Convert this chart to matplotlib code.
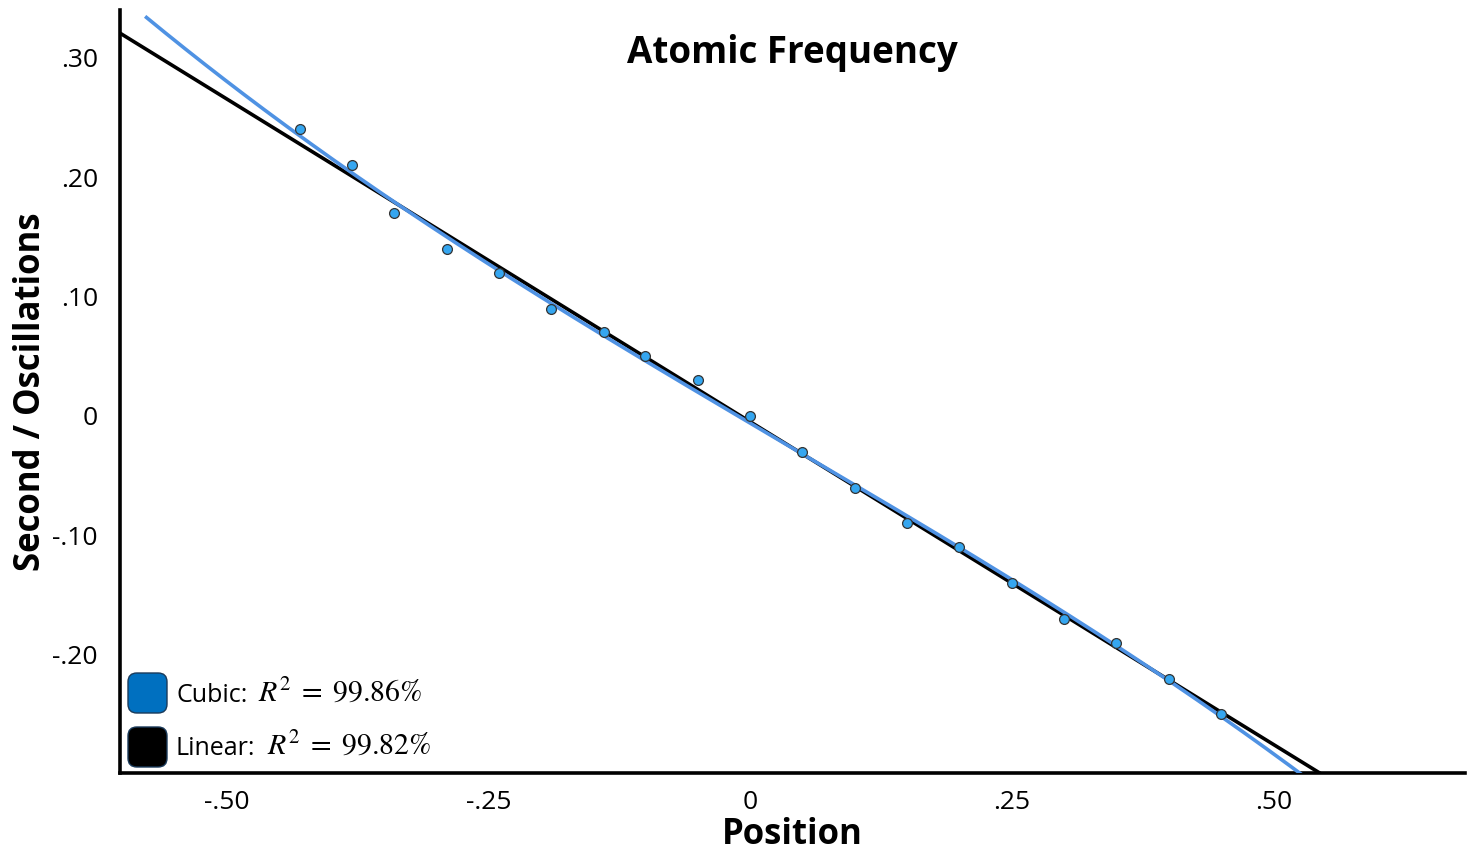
import numpy as np
import matplotlib
matplotlib.use("Agg")
import matplotlib.pyplot as plt
from matplotlib.patches import FancyBboxPatch

# ---- data ----
position = [-0.43, -0.38, -0.34, -0.29, -0.24, -0.19, -0.14, -0.10, -0.05, 0.00,
            0.05, 0.10, 0.15, 0.20, 0.25, 0.30, 0.35, 0.40, 0.45]
oscillation = [0.24, 0.21, 0.17, 0.14, 0.12, 0.09, 0.07, 0.05, 0.03, 0.00,
               -0.03, -0.06, -0.09, -0.11, -0.14, -0.17, -0.19, -0.22, -0.25]
x_ticks = [-0.50, -0.25, 0.0, 0.25, 0.50]
x_tick_labels = ["-.50", "-.25", "0", ".25", ".50"]
y_ticks = [0.30, 0.20, 0.10, 0.0, -0.10, -0.20]
y_tick_labels = [".30", ".20", ".10", "0", "-.10", "-.20"]
cubic_label = ["Cubic:", r"$R^2\;=\;99.86\%$"]
linear_label = ["Linear:", r"$R^2\;=\;99.82\%$"]

plt.rcParams['font.family'] = ['Open Sans', 'DejaVu Sans']
plt.rcParams['mathtext.fontset'] = 'stix'

W, H = 1477, 857
fig = plt.figure(figsize=(W / 100, H / 100), dpi=100)
ax = fig.add_axes([120 / W, 1 - 773 / H, (1465 - 120) / W, (773 - 10) / H])
xlim = (-0.602, 0.683)
ylim = (-0.299, 0.340)
ax.set_xlim(*xlim)
ax.set_ylim(*ylim)

x = np.array(position)
y = np.array(oscillation)
lin = np.polyfit(x, y, 1)
cub = np.polyfit(x, y, 3)
xl = np.linspace(xlim[0], xlim[1], 400)
xc = np.linspace(-0.578, xlim[1], 400)
ax.plot(xl, np.polyval(lin, xl), color='black', lw=2.6, zorder=2, solid_capstyle='butt')
ax.plot(xc, np.polyval(cub, xc), color='#4F92E3', lw=2.6, zorder=3, solid_capstyle='butt')
ax.scatter(x, y, s=50, facecolor='#35A6F0', edgecolor='#333333', linewidth=0.9, zorder=4)

for s in ['top', 'right']:
    ax.spines[s].set_visible(False)
for s in ['left', 'bottom']:
    ax.spines[s].set_linewidth(2.6)
    ax.spines[s].set_color('black')

ax.set_xticks(x_ticks)
ax.set_xticklabels(x_tick_labels)
ax.set_yticks(y_ticks)
ax.set_yticklabels(y_tick_labels)
ax.tick_params(axis='x', length=0, labelsize=19, pad=12, colors='black')
ax.tick_params(axis='y', length=0, labelsize=19, pad=16, colors='black')

ax.set_xlabel("Position", fontsize=25, fontweight='bold', labelpad=2)
ax.set_ylabel("Second / Oscillations", fontsize=25, fontweight='bold', labelpad=2)
ax.text(0.5, 0.943, "Atomic Frequency", transform=ax.transAxes, ha='center', va='center',
        fontsize=26.5, fontweight='bold')

# legend boxes
def fig_box(px0, py0, px1, py1, color):
    p = FancyBboxPatch((px0 / W, 1 - py1 / H), (px1 - px0) / W, (py1 - py0) / H,
                       boxstyle="round,pad=0,rounding_size=0.006",
                       transform=fig.transFigure, facecolor=color,
                       edgecolor='#1a3a5a', linewidth=1.0, mutation_aspect=W / H)
    fig.patches.append(p)

fig_box(128, 673, 167, 713, '#0070C0')
fig_box(128, 727, 167, 767, '#000000')

for lab, ypx in [(cubic_label, 693), (linear_label, 746)]:
    t = fig.text(176 / W, 1 - ypx / H, lab[0], fontsize=18, va='baseline', ha='left')
    t.set_y(1 - (ypx + 9) / H)
    ax.annotate(lab[1], xy=(1, 0), xycoords=t, xytext=(8, 0), textcoords='offset points',
                fontsize=21.5, va='bottom', ha='left', annotation_clip=False)

fig.savefig("out.png", dpi=100)
